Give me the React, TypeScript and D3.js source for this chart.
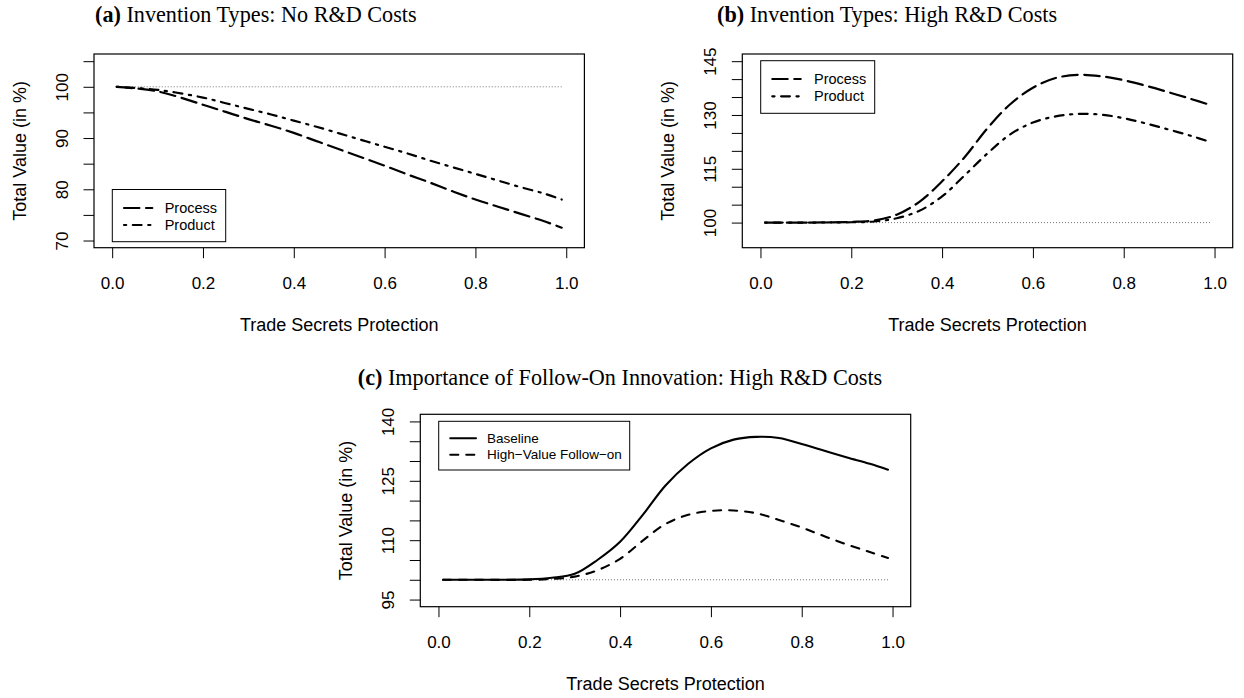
import React, { useEffect, useRef } from 'react';
import * as d3 from 'd3';

// trade secrets protection grid (x values of every series)
const protection = [0.01, 0.1, 0.2, 0.25, 0.3, 0.35, 0.4, 0.45, 0.5, 0.55, 0.6, 0.65, 0.7, 0.75, 0.8, 0.85, 0.9, 0.95, 0.99];

// (a) no R&D costs
const noRdProcess = [100, 99.1, 96.5, 95.1, 93.7, 92.4, 91.0, 89.4, 87.8, 86.2, 84.6, 82.9, 81.3, 79.6, 78.0, 76.6, 75.2, 73.8, 72.5];
const noRdProduct = [100, 99.4, 97.9, 96.8, 95.7, 94.6, 93.4, 92.2, 90.9, 89.6, 88.3, 87.0, 85.6, 84.3, 83.0, 81.7, 80.4, 79.2, 78.0];

// (b) high R&D costs
const highRdProcess = [100, 100, 100.2, 100.6, 102.2, 105.8, 111.5, 118.3, 126.3, 133.0, 137.6, 140.3, 141.2, 140.8, 139.7, 138.1, 136.3, 134.4, 132.8];
const highRdProduct = [100, 100, 100.1, 100.3, 101.2, 103.3, 107.3, 113.2, 119.3, 124.6, 127.9, 129.6, 130.3, 130.1, 129.1, 127.6, 125.9, 124.1, 122.5];

// (c) follow-on innovation, high R&D costs
const baseline = [100, 100, 100.1, 100.5, 101.5, 105.0, 109.6, 116.4, 123.8, 129.3, 133.2, 135.4, 136.1, 135.8, 134.3, 132.6, 130.9, 129.3, 127.8];
const highValueFollowOn = [100, 100, 100, 100.2, 100.8, 102.4, 105.3, 109.9, 114.1, 116.4, 117.4, 117.5, 116.8, 115.1, 113.2, 111.0, 108.9, 107.0, 105.5];

const xTicks = [0, 0.2, 0.4, 0.6, 0.8, 1.0];
const yTicksA = [70, 75, 80, 85, 90, 95, 100, 105];
const yLabelsA = [70, 80, 90, 100];
const yTicksB = [100, 105, 110, 115, 120, 125, 130, 135, 140, 145];
const yLabelsB = [100, 115, 130, 145];
const yTicksC = [95, 100, 105, 110, 115, 120, 125, 130, 135, 140];
const yLabelsC = [95, 110, 125, 140];

const SANS = '"Liberation Sans", Arial, Helvetica, sans-serif';
const SERIF = '"Liberation Serif", "Times New Roman", serif';

interface Series {
  name: string;
  values: number[];
  dash: string;
}

interface PanelSpec {
  left: number;
  top: number;
  width: number;
  height: number;
  ylim: [number, number];
  yTicks: number[];
  yLabels: number[];
  series: Series[];
  lineWidth: number;
  legend: { x: number; y: number; w: number; h: number; x1: number; x2: number; tx: number; rows: number[]; size: number };
}

const panels: PanelSpec[] = [
  {
    left: 94, top: 54, width: 490.4, height: 193.7,
    ylim: [70, 105], yTicks: yTicksA, yLabels: yLabelsA, lineWidth: 2.2,
    series: [
      { name: 'Process', values: noRdProcess, dash: '15.4,6.6' },
      { name: 'Product', values: noRdProduct, dash: '2.2,6.6,8.8,6.6' },
    ],
    legend: { x: 18.3, y: 135.5, w: 113.4, h: 52.2, x1: 30, x2: 58.3, tx: 70.7, rows: [154, 171], size: 14.5 },
  },
  {
    left: 742.3, top: 54, width: 490.4, height: 193.7,
    ylim: [95, 145], yTicks: yTicksB, yLabels: yLabelsB, lineWidth: 2.2,
    series: [
      { name: 'Process', values: highRdProcess, dash: '15.4,6.6' },
      { name: 'Product', values: highRdProduct, dash: '2.2,6.6,8.8,6.6' },
    ],
    legend: { x: 18.4, y: 6.7, w: 114, h: 52.6, x1: 30, x2: 58.4, tx: 71.7, rows: [25, 42.3], size: 14.5 },
  },
  {
    left: 420.3, top: 414.3, width: 490.4, height: 192.4,
    ylim: [95, 140], yTicks: yTicksC, yLabels: yLabelsC, lineWidth: 2.1,
    series: [
      { name: 'Baseline', values: baseline, dash: '' },
      { name: 'High\u2212Value Follow\u2212on', values: highValueFollowOn, dash: '8,8' },
    ],
    legend: { x: 18.4, y: 7, w: 191, h: 48.7, x1: 30, x2: 55.7, tx: 66.7, rows: [24, 40.4], size: 13.5 },
  },
];

const titles = [
  { label: '(a)', text: ' Invention Types: No R&D Costs', x: 95, y: 22, anchor: 'start' },
  { label: '(b)', text: ' Invention Types: High R&D Costs', x: 717, y: 22, anchor: 'start' },
  { label: '(c)', text: ' Importance of Follow-On Innovation: High R&D Costs', x: 620, y: 385, anchor: 'middle' },
];

function drawPanel(svg: d3.Selection<SVGSVGElement, unknown, null, undefined>, p: PanelSpec) {
  const g = svg.append('g').attr('transform', `translate(${p.left},${p.top})`);
  const padX = (p.width * 0.04) / 1.08;
  const padY = (p.height * 0.04) / 1.08;
  const x = d3.scaleLinear().domain([0, 1]).range([padX, p.width - padX]);
  const y = d3.scaleLinear().domain(p.ylim).range([p.height - padY, padY]);

  // 100% reference
  g.append('line')
    .attr('x1', x(protection[0]))
    .attr('x2', x(protection[protection.length - 1]))
    .attr('y1', y(100))
    .attr('y2', y(100))
    .attr('stroke', '#555')
    .attr('stroke-width', 0.8)
    .attr('stroke-dasharray', '1,2');

  const line = d3
    .line<number>()
    .x((_, i) => x(protection[i]))
    .y((d) => y(d))
    .curve(d3.curveCatmullRom.alpha(0.5));

  p.series.forEach((s) => {
    g.append('path')
      .datum(s.values)
      .attr('d', line)
      .attr('fill', 'none')
      .attr('stroke', '#000')
      .attr('stroke-width', p.lineWidth)
      .attr('stroke-linecap', 'round')
      .attr('stroke-dasharray', s.dash || null);
  });

  // box
  g.append('rect')
    .attr('width', p.width)
    .attr('height', p.height)
    .attr('fill', 'none')
    .attr('stroke', '#000')
    .attr('stroke-width', 1.2);

  // x axis
  g.append('g')
    .attr('transform', `translate(0,${p.height})`)
    .call(d3.axisBottom(x).tickValues(xTicks).tickSize(10.5).tickSizeOuter(0).tickFormat(d3.format('.1f')))
    .call((a) => a.select('.domain').remove())
    .call((a) => a.selectAll('.tick line').attr('stroke', '#000').attr('stroke-width', 1))
    .call((a) =>
      a.selectAll('.tick text')
        .attr('y', 35)
        .attr('dy', '0.36em')
        .attr('fill', '#000')
        .attr('font-family', SANS)
        .attr('font-size', 17)
    );

  // y axis, labels rotated like base R
  g.append('g')
    .call(
      d3.axisLeft(y)
        .tickValues(p.yTicks)
        .tickSize(10.5)
        .tickSizeOuter(0)
        .tickFormat((v) => (p.yLabels.includes(v as number) ? String(v) : ''))
    )
    .call((a) => a.select('.domain').remove())
    .call((a) => a.selectAll('.tick line').attr('stroke', '#000').attr('stroke-width', 1))
    .call((a) =>
      a.selectAll('.tick text')
        .attr('x', 0)
        .attr('dy', null)
        .attr('transform', 'translate(-32,0) rotate(-90)')
        .attr('text-anchor', 'middle')
        .attr('dominant-baseline', 'central')
        .attr('fill', '#000')
        .attr('font-family', SANS)
        .attr('font-size', 17)
    );

  g.append('text')
    .attr('x', p.width / 2)
    .attr('y', p.height + 77)
    .attr('text-anchor', 'middle')
    .attr('dominant-baseline', 'central')
    .attr('font-family', SANS)
    .attr('font-size', 18)
    .text('Trade Secrets Protection');

  g.append('text')
    .attr('transform', `translate(-74.5,${p.height / 2}) rotate(-90)`)
    .attr('text-anchor', 'middle')
    .attr('dominant-baseline', 'central')
    .attr('font-family', SANS)
    .attr('font-size', 18)
    .text('Total Value (in %)');

  // legend
  const L = p.legend;
  const lg = g.append('g');
  lg.append('rect')
    .attr('x', L.x)
    .attr('y', L.y)
    .attr('width', L.w)
    .attr('height', L.h)
    .attr('fill', '#fff')
    .attr('stroke', '#000')
    .attr('stroke-width', 1);
  p.series.forEach((s, i) => {
    lg.append('line')
      .attr('x1', L.x1)
      .attr('x2', L.x2)
      .attr('y1', L.rows[i])
      .attr('y2', L.rows[i])
      .attr('stroke', '#000')
      .attr('stroke-width', p.lineWidth)
      .attr('stroke-linecap', 'round')
      .attr('stroke-dasharray', s.dash || null);
    lg.append('text')
      .attr('x', L.tx)
      .attr('y', L.rows[i])
      .attr('dominant-baseline', 'central')
      .attr('font-family', SANS)
      .attr('font-size', L.size)
      .text(s.name);
  });
}

const App: React.FC = () => {
  const svgRef = useRef<SVGSVGElement>(null);

  useEffect(() => {
    if (!svgRef.current) return;
    const svg = d3.select(svgRef.current);
    svg.selectAll('*').remove();

    panels.forEach((p) => drawPanel(svg, p));

    titles.forEach((t) => {
      const tx = svg
        .append('text')
        .attr('x', t.x)
        .attr('y', t.y)
        .attr('text-anchor', t.anchor)
        .attr('font-family', SERIF)
        .attr('font-size', 22.2)
        .attr('fill', '#000');
      tx.append('tspan').attr('font-weight', 'bold').text(t.label);
      tx.append('tspan').text(t.text);
    });
  }, []);

  return (
    <div style={{ position: 'absolute', left: 0, top: 0 }}>
      <svg ref={svgRef} width={1244} height={698} style={{ display: 'block', background: '#fff' }} />
    </div>
  );
};

export default App;
